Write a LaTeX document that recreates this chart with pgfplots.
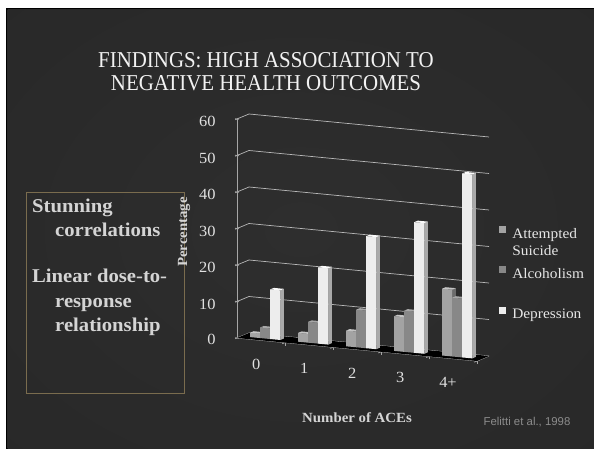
\documentclass[border=0pt]{standalone}
\usepackage{fontspec}
\setmainfont{Liberation Serif}[FakeStretch=1.06]
\newfontfamily\titlefont{Liberation Serif}[FakeStretch=0.92]
\newfontfamily\citefont{Liberation Sans}
\usepackage{pgfplots}
\usepackage{pgfplotstable}
\pgfplotsset{compat=1.18}

\definecolor{slidemid}{HTML}{2E2E2E}
\definecolor{slideedge}{HTML}{121212}
\definecolor{titletext}{HTML}{F2F2F2}
\definecolor{bodytext}{HTML}{D4D4D4}
\definecolor{boxline}{HTML}{7A6C4E}
\definecolor{gridgray}{HTML}{B8B8B8}
\definecolor{axisgray}{HTML}{A6A6A6}
\definecolor{ticktext}{HTML}{E0E0E0}
\definecolor{citetext}{HTML}{8C8C8C}
\definecolor{legtext}{HTML}{E6E6E6}
% column faces: front, side, top
\definecolor{sufront}{HTML}{A3A3A3}
\definecolor{suside}{HTML}{6C6C6C}
\definecolor{sutop}{HTML}{C4C4C4}
\definecolor{alfront}{HTML}{888888}
\definecolor{alside}{HTML}{5A5A5A}
\definecolor{altop}{HTML}{A8A8A8}
\definecolor{defront}{HTML}{EDEDED}
\definecolor{deside}{HTML}{A9A9A9}
\definecolor{detop}{HTML}{FAFAFA}

\pgfdeclareradialshading{slide}{\pgfpoint{0bp}{0bp}}{%
  color(0bp)=(slidemid); color(35bp)=(slidemid!80!slideedge); color(71bp)=(slideedge)}

% percentage of respondents by number of ACEs
\pgfplotstableread{
ace suicide alcoholism depression
0   1.2     2.9        13.6
1   2.4     5.7        20.9
2   4.3     10.3       30.7
3   9.5     11.3       35.8
4   18.3    16.1       50.4
}\acedata

\newcommand\barw{0.21}
\newcommand\barya{0.35}
\newcommand\baryb{0.65}

% one column as a box: right side, front and top faces
\newcommand\drawbar[5]{%
  \pgfmathsetmacro\xa{#1}%
  \pgfmathsetmacro\xb{#1+\barw}%
  \edef\barcmd{%
    \noexpand\addplot3[forget plot, mark=none, draw=none, fill=#4]
      coordinates {(\xb,\barya,0) (\xb,\baryb,0) (\xb,\baryb,#2) (\xb,\barya,#2)};
    \noexpand\addplot3[forget plot, mark=none, draw=none, fill=#3]
      coordinates {(\xa,\barya,0) (\xb,\barya,0) (\xb,\barya,#2) (\xa,\barya,#2)};
    \noexpand\addplot3[forget plot, mark=none, draw=none, fill=#5]
      coordinates {(\xa,\barya,#2) (\xb,\barya,#2) (\xb,\baryb,#2) (\xa,\baryb,#2)};
  }\barcmd
}

\begin{document}
\begin{tikzpicture}
\useasboundingbox (0,0) rectangle (594pt,449pt);
\fill[white] (0,0) rectangle (594pt,449pt);
\fill[black] (6pt,0) rectangle (594pt,441pt);
\shade[shading=slide] (7.5pt,0) rectangle (594pt,439.5pt);

\node[anchor=base, inner sep=0pt, text=titletext, font=\titlefont\fontsize{22.7}{24}\selectfont]
  at (266pt,381pt) {FINDINGS: HIGH ASSOCIATION TO};
\node[anchor=base, inner sep=0pt, text=titletext, font=\titlefont\fontsize{22.7}{24}\selectfont]
  at (266pt,358pt) {NEGATIVE HEALTH OUTCOMES};

\draw[boxline, line width=0.6pt] (26pt,56pt) rectangle (184pt,257pt);
\begin{scope}[every node/.style={anchor=base west, inner sep=0pt, text=bodytext,
    font=\bfseries\fontsize{19.5}{22}\selectfont}]
  \node at (32pt,236pt) {Stunning};
  \node at (55pt,212pt) {correlations};
  \node at (32pt,166pt) {Linear dose-to-};
  \node at (55pt,141pt) {response};
  \node at (55pt,117pt) {relationship};
\end{scope}

\begin{axis}[
  at={(237pt,111pt)}, anchor=origin,
  x={(48pt,-4.6pt)}, y={(12pt,5pt)}, z={(0pt,3.65pt)},
  xmin=0, xmax=5, ymin=0, ymax=1, zmin=0, zmax=60,
  clip=false,
  axis lines=left,
  axis line style={-, draw=axisgray, line width=0.8pt},
  xtick={0.5,1.5,2.5,3.5,4.5},
  xticklabels={0,1,2,3,4+},
  minor xtick={1,2,3,4,5},
  ytick=\empty,
  ztick={0,10,20,30,40,50,60},
  zmajorgrids,
  major grid style={draw=gridgray, line width=0.7pt},
  major x tick style={draw=none},
  minor tick length=6pt,
  major tick length=4pt,
  tick style={draw=axisgray, line width=0.8pt},
  ticklabel style={text=ticktext, font=\fontsize{15.5}{17}\selectfont},
  xticklabel style={xshift=3pt, yshift=-14pt},
  zticklabel style={xshift=-16pt},
  /pgf/number format/assume math mode=true,
  legend style={draw=none, fill=none, at={(1.04,0.555)}, anchor=north west,
    font=\fontsize{14.5}{17}\selectfont, text=legtext, row sep=23pt,
    inner sep=0pt, column sep=4pt},
  legend cell align=left,
  legend image code/.code={\fill[#1] (0pt,0pt) rectangle (7pt,7pt);},
]
\addlegendimage{fill=sufront, draw=none}
\addlegendentry{\strut\smash{\vtop{\hbox{\strut Attempted}\hbox{\strut Suicide}}}}
\addlegendimage{fill=alfront, draw=none}
\addlegendentry{\strut Alcoholism}
\addlegendimage{fill=defront, draw=none}
\addlegendentry{\strut Depression}

% floor
\addplot3[forget plot, mark=none, draw=none, fill=black]
  coordinates {(0,0,0) (5,0,0) (5,1,0) (0,1,0)};

\pgfplotsinvokeforeach{0,...,4}{%
  \pgfplotstablegetelem{#1}{suicide}\of\acedata \let\vsu\pgfplotsretval
  \pgfplotstablegetelem{#1}{alcoholism}\of\acedata \let\val\pgfplotsretval
  \pgfplotstablegetelem{#1}{depression}\of\acedata \let\vde\pgfplotsretval
  \drawbar{#1+0.5-0.315}{\vsu}{sufront}{suside}{sutop}
  \drawbar{#1+0.5-0.105}{\val}{alfront}{alside}{altop}
  \drawbar{#1+0.5+0.105}{\vde}{defront}{deside}{detop}
}
\end{axis}

\node[rotate=90, inner sep=0pt, text=bodytext, font=\bfseries\fontsize{14}{16}\selectfont]
  at (184pt,217pt) {Percentage};
\node[inner sep=0pt, text=bodytext, font=\bfseries\fontsize{14}{16}\selectfont]
  at (357pt,31pt) {Number of ACEs};
\node[inner sep=0pt, text=citetext, font=\citefont\fontsize{11.4}{13}\selectfont]
  at (527pt,27pt) {Felitti et al., 1998};
\end{tikzpicture}
\end{document}
